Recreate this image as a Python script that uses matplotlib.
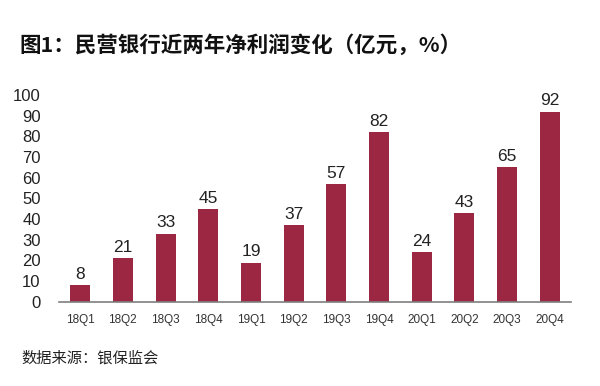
import matplotlib
matplotlib.use("Agg")
import matplotlib.pyplot as plt

# データ
quarters = ["18Q1", "18Q2", "18Q3", "18Q4", "19Q1", "19Q2",
            "19Q3", "19Q4", "20Q1", "20Q2", "20Q3", "20Q4"]
profits = [8, 21, 33, 45, 19, 37, 57, 82, 24, 43, 65, 92]
y_ticks = list(range(0, 101, 10))

title = "图1：民营银行近两年净利润变化（亿元，%）"
source = "数据来源：银保监会"

bar_color = "#9b2743"
num_font = ["Liberation Sans", "DejaVu Sans"]
cjk_font = ["Noto Sans CJK SC", "DejaVu Sans"]

fig = plt.figure(figsize=(6.0, 3.86), dpi=100)
ax = fig.add_axes([0.098, 0.218, 0.854, 0.536])

x = list(range(len(quarters)))
bars = ax.bar(x, profits, width=0.47, color=bar_color, zorder=2)

# 数値ラベル
for xi, v in zip(x, profits):
    ax.text(xi, v + 1.5, str(v), ha="center", va="bottom",
            fontsize=12.5, family=num_font, color="#222222")

ax.set_xlim(-0.5, 11.5)
ax.set_ylim(0, 100)
ax.set_xticks(x)
ax.set_xticklabels(quarters, fontsize=8.5, family=num_font, color="#333333")
ax.set_yticks(y_ticks)
ax.set_yticklabels([str(t) for t in y_ticks], fontsize=12,
                   family=num_font, color="#222222")
ax.tick_params(axis="both", length=0)
ax.tick_params(axis="x", pad=9)
ax.tick_params(axis="y", pad=13)

for side in ["top", "right", "left"]:
    ax.spines[side].set_visible(False)
ax.spines["bottom"].set_color("#7f7f7f")
ax.spines["bottom"].set_linewidth(1.2)

fig.text(0.033, 0.883, title, fontsize=15.5, fontweight="bold",
         family=cjk_font, ha="left", va="center", color="#111111")
fig.text(0.035, 0.072, source, fontsize=11, family=cjk_font,
         ha="left", va="center", color="#222222")

fig.savefig("out.png", dpi=100)
